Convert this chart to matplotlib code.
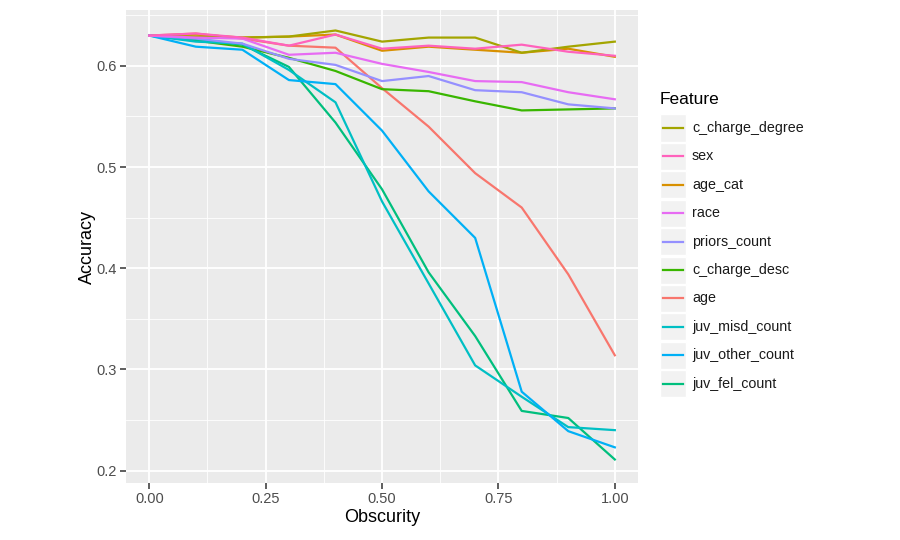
import numpy as np
import matplotlib.pyplot as plt
from matplotlib.patches import Rectangle

plt.rcParams['font.family'] = ['Liberation Sans', 'DejaVu Sans']

obscurity = [0.0, 0.1, 0.2, 0.3, 0.4, 0.5, 0.6, 0.7, 0.8, 0.9, 1.0]

# legend order (as in the reference)
features = ["c_charge_degree", "sex", "age_cat", "race", "priors_count",
            "c_charge_desc", "age", "juv_misd_count", "juv_other_count", "juv_fel_count"]

# ggplot hue palette, assigned alphabetically
colors = {
    "age": "#F8766D",
    "age_cat": "#D89000",
    "c_charge_degree": "#A3A500",
    "c_charge_desc": "#39B600",
    "juv_fel_count": "#00BF7D",
    "juv_misd_count": "#00BFC4",
    "juv_other_count": "#00B0F6",
    "priors_count": "#9590FF",
    "race": "#E76BF3",
    "sex": "#FF62BC",
}

c_charge_degree = [0.630, 0.629, 0.628, 0.629, 0.635, 0.624, 0.628, 0.628, 0.613, 0.619, 0.624]
sex = [0.630, 0.632, 0.628, 0.620, 0.631, 0.617, 0.620, 0.617, 0.621, 0.614, 0.610]
age_cat = [0.630, 0.631, 0.628, 0.629, 0.631, 0.615, 0.619, 0.616, 0.613, 0.617, 0.609]
race = [0.630, 0.628, 0.627, 0.611, 0.613, 0.602, 0.594, 0.585, 0.584, 0.574, 0.567]
priors_count = [0.630, 0.627, 0.622, 0.607, 0.601, 0.585, 0.590, 0.576, 0.574, 0.562, 0.558]
c_charge_desc = [0.630, 0.625, 0.619, 0.608, 0.595, 0.577, 0.575, 0.565, 0.556, 0.557, 0.558]
age = [0.630, 0.632, 0.627, 0.620, 0.618, 0.578, 0.540, 0.494, 0.460, 0.394, 0.314]
juv_misd_count = [0.630, 0.624, 0.622, 0.596, 0.564, 0.466, 0.385, 0.304, 0.273, 0.243, 0.240]
juv_other_count = [0.630, 0.619, 0.616, 0.586, 0.582, 0.536, 0.476, 0.430, 0.278, 0.239, 0.223]
juv_fel_count = [0.630, 0.626, 0.621, 0.599, 0.544, 0.478, 0.396, 0.333, 0.259, 0.252, 0.211]

series = {
    "c_charge_degree": c_charge_degree, "sex": sex, "age_cat": age_cat,
    "race": race, "priors_count": priors_count, "c_charge_desc": c_charge_desc,
    "age": age, "juv_misd_count": juv_misd_count,
    "juv_other_count": juv_other_count, "juv_fel_count": juv_fel_count,
}

fig = plt.figure(figsize=(9, 5.4), dpi=100)
ax = fig.add_axes([0.14, 0.106, 0.569, 0.875])
ax.set_facecolor("#EBEBEB")

# draw in alphabetical order like ggplot
for name in sorted(features):
    ax.plot(obscurity, series[name], color=colors[name], lw=1.6, zorder=3)

ax.set_xlim(-0.05, 1.05)
ax.set_ylim(0.188, 0.655)
ax.set_xticks([0, 0.25, 0.5, 0.75, 1.0])
ax.set_xticklabels(["0.00", "0.25", "0.50", "0.75", "1.00"])
ax.set_yticks([0.2, 0.3, 0.4, 0.5, 0.6])
ax.set_xticks([0.125, 0.375, 0.625, 0.875], minor=True)
ax.set_yticks([0.25, 0.35, 0.45, 0.55, 0.65], minor=True)
ax.grid(which="major", color="white", lw=1.3, zorder=1)
ax.grid(which="minor", color="white", lw=0.6, zorder=1)
ax.set_axisbelow(True)
for s in ax.spines.values():
    s.set_visible(False)
ax.tick_params(which="major", length=4, width=1.1, color="#333333",
               labelcolor="#4D4D4D", labelsize=10.5, pad=3)
ax.tick_params(which="minor", length=0)
ax.set_xlabel("Obscurity", fontsize=13, labelpad=2)
ax.set_ylabel("Accuracy", fontsize=13, labelpad=0)

# legend
fig.text(660 / 900, 1 - 100 / 540, "Feature", fontsize=12.5, va="center", ha="left")
row_h = 28.4
for i, name in enumerate(features):
    yc = 128 + i * row_h
    fig.patches.append(Rectangle((660 / 900, 1 - (yc + 13.5) / 540), 26 / 900, 27 / 540,
                                 transform=fig.transFigure, facecolor="#F2F2F2",
                                 edgecolor="white", lw=1))
    fig.add_artist(plt.Line2D([663 / 900, 683 / 900], [1 - yc / 540, 1 - yc / 540],
                              color=colors[name], lw=1.6, transform=fig.transFigure))
    fig.text(692 / 900, 1 - yc / 540, name, fontsize=10.3, va="center", ha="left",
             color="#1A1A1A")

fig.savefig("out.png", dpi=100)
